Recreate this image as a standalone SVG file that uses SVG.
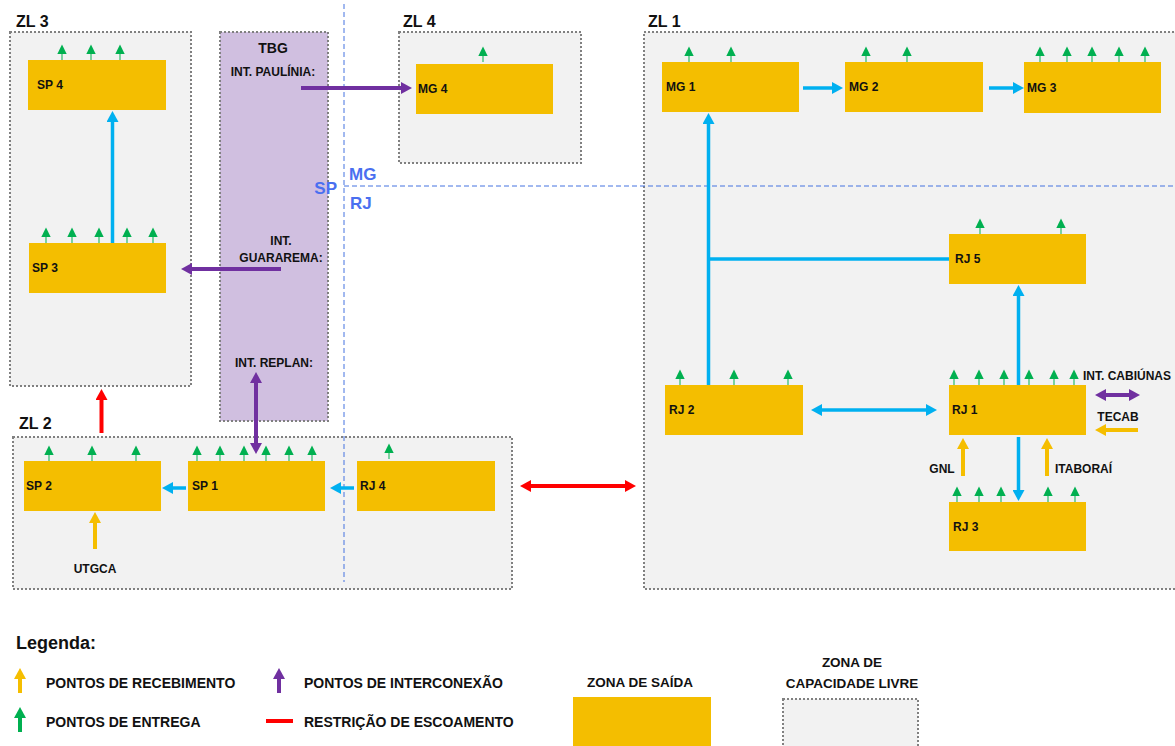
<svg xmlns="http://www.w3.org/2000/svg" width="1175" height="746" viewBox="0 0 1175 746">
<style>
text{font-family:"Liberation Sans",Arial,sans-serif;font-weight:bold;fill:#111}
.zone{fill:#f2f2f2;stroke:#808080;stroke-width:2;stroke-dasharray:2 2}
.tbg{fill:#d0bfe0;stroke:#808080;stroke-width:2;stroke-dasharray:2 2}
.node{fill:#f4be00}
.zl{font-size:16px}
.nl{font-size:12px}
.el{font-size:12px}
.lg{font-size:14px}
.geo{font-size:17px;fill:#4a6ff0}
.dash{stroke:#4472e0;stroke-width:1;stroke-dasharray:5 3;fill:none}
.cb{stroke:#00b0f0;stroke-width:3.5;fill:none}
.cp{stroke:#7030a0;stroke-width:4;fill:none}
.cy{stroke:#f5be00;stroke-width:4;fill:none}
.cr{stroke:#ff0000;stroke-width:4;fill:none}
.cg{stroke:#00b050;stroke-width:4;fill:none}
</style>
<defs>
<marker id="mb" viewBox="0 0 11 12" refX="3" refY="6" markerWidth="11" markerHeight="12" markerUnits="userSpaceOnUse" orient="auto-start-reverse"><path d="M0,0L11,6L0,12z" fill="#00b0f0"/></marker>
<marker id="mp" viewBox="0 0 11 12" refX="3" refY="6" markerWidth="11" markerHeight="12" markerUnits="userSpaceOnUse" orient="auto-start-reverse"><path d="M0,0L11,6L0,12z" fill="#7030a0"/></marker>
<marker id="my" viewBox="0 0 11 12" refX="3" refY="6" markerWidth="11" markerHeight="12" markerUnits="userSpaceOnUse" orient="auto-start-reverse"><path d="M0,0L11,6L0,12z" fill="#f5be00"/></marker>
<marker id="mr" viewBox="0 0 11 12" refX="3" refY="6" markerWidth="11" markerHeight="12" markerUnits="userSpaceOnUse" orient="auto-start-reverse"><path d="M0,0L11,6L0,12z" fill="#ff0000"/></marker>
<marker id="mg" viewBox="0 0 11 12" refX="3" refY="6" markerWidth="11" markerHeight="12" markerUnits="userSpaceOnUse" orient="auto-start-reverse"><path d="M0,0L11,6L0,12z" fill="#00b050"/></marker>
<g id="d"><line x1="0" y1="0" x2="0" y2="-7" stroke="#5cc98a" stroke-width="1.6"/><polygon points="-4.7,-6 4.7,-6 0,-15.5" fill="#00b050"/></g>
</defs>

<g id="zones">
<g id="zl3"><rect class="zone" x="10" y="32" width="181" height="354"/><text class="zl" x="16" y="21" dominant-baseline="central">ZL 3</text></g>
<g id="tbg"><rect class="tbg" x="220" y="32" width="108" height="389"/>
<text x="273" y="48" font-size="14" text-anchor="middle" dominant-baseline="central">TBG</text>
<text class="el" x="273" y="72" text-anchor="middle" dominant-baseline="central">INT. PAULÍNIA:</text>
<text class="el" x="281" y="241" text-anchor="middle" dominant-baseline="central">INT.</text>
<text class="el" x="281" y="258" text-anchor="middle" dominant-baseline="central">GUARAREMA:</text>
<text class="el" x="274" y="363" text-anchor="middle" dominant-baseline="central">INT. REPLAN:</text>
</g>
<g id="zl4"><rect class="zone" x="399" y="32" width="182" height="131"/><text class="zl" x="403" y="21" dominant-baseline="central">ZL 4</text></g>
<g id="zl1"><rect class="zone" x="644" y="32" width="545" height="557"/><text class="zl" x="648" y="21" dominant-baseline="central">ZL 1</text></g>
<g id="zl2"><rect class="zone" x="13" y="437" width="499" height="152"/><text class="zl" x="19" y="423" dominant-baseline="central">ZL 2</text></g>
</g>

<g id="regions">
<line class="dash" x1="344" y1="4" x2="344" y2="582"/>
<line class="dash" x1="344" y1="186" x2="1175" y2="186"/>
<text class="geo" x="337" y="188" text-anchor="end" dominant-baseline="central">SP</text>
<text class="geo" x="349" y="174" dominant-baseline="central">MG</text>
<text class="geo" x="350" y="203" dominant-baseline="central">RJ</text>
</g>

<g id="nodes">
<g id="sp4"><rect class="node" x="28" y="60" width="138" height="50"/><text class="nl" x="37" y="85" dominant-baseline="central">SP 4</text>
<use href="#d" x="62" y="60"/><use href="#d" x="91" y="60"/><use href="#d" x="120" y="60"/></g>
<g id="sp3"><rect class="node" x="29" y="243" width="137" height="50"/><text class="nl" x="32" y="268" dominant-baseline="central">SP 3</text>
<use href="#d" x="46" y="243"/><use href="#d" x="72" y="243"/><use href="#d" x="99" y="243"/><use href="#d" x="127" y="243"/><use href="#d" x="153" y="243"/></g>
<g id="mg4"><rect class="node" x="416" y="64" width="137" height="50"/><text class="nl" x="418" y="89" dominant-baseline="central">MG 4</text>
<use href="#d" x="483" y="62"/></g>
<g id="mg1"><rect class="node" x="662" y="62" width="137" height="50"/><text class="nl" x="666" y="87" dominant-baseline="central">MG 1</text>
<use href="#d" x="689" y="62"/><use href="#d" x="731" y="62"/></g>
<g id="mg2"><rect class="node" x="845" y="62" width="138" height="50"/><text class="nl" x="849" y="87" dominant-baseline="central">MG 2</text>
<use href="#d" x="866" y="62"/><use href="#d" x="907" y="62"/></g>
<g id="mg3"><rect class="node" x="1024" y="62" width="137" height="51"/><text class="nl" x="1027" y="88" dominant-baseline="central">MG 3</text>
<use href="#d" x="1040" y="62"/><use href="#d" x="1067" y="62"/><use href="#d" x="1092" y="62"/><use href="#d" x="1119" y="62"/><use href="#d" x="1145" y="62"/></g>
<g id="rj5"><rect class="node" x="949" y="234" width="137" height="50"/><text class="nl" x="955" y="259" dominant-baseline="central">RJ 5</text>
<use href="#d" x="980" y="234"/><use href="#d" x="1061" y="234"/></g>
<g id="rj2"><rect class="node" x="665" y="385" width="138" height="50"/><text class="nl" x="669" y="410" dominant-baseline="central">RJ 2</text>
<use href="#d" x="680" y="385"/><use href="#d" x="734" y="385"/><use href="#d" x="788" y="385"/></g>
<g id="rj1"><rect class="node" x="949" y="385" width="137" height="50"/><text class="nl" x="952" y="410" dominant-baseline="central">RJ 1</text>
<use href="#d" x="954" y="385"/><use href="#d" x="979" y="385"/><use href="#d" x="1004" y="385"/><use href="#d" x="1029" y="385"/><use href="#d" x="1054" y="385"/><use href="#d" x="1074" y="385"/></g>
<g id="rj3"><rect class="node" x="949" y="502" width="137" height="49"/><text class="nl" x="953" y="527" dominant-baseline="central">RJ 3</text>
<use href="#d" x="957" y="502"/><use href="#d" x="979" y="502"/><use href="#d" x="1001" y="502"/><use href="#d" x="1048" y="502"/><use href="#d" x="1075" y="502"/></g>
<g id="sp2"><rect class="node" x="24" y="461" width="137" height="50"/><text class="nl" x="26" y="486" dominant-baseline="central">SP 2</text>
<use href="#d" x="49" y="461"/><use href="#d" x="92" y="461"/><use href="#d" x="136" y="461"/></g>
<g id="sp1"><rect class="node" x="188" y="461" width="137" height="50"/><text class="nl" x="192" y="486" dominant-baseline="central">SP 1</text>
<use href="#d" x="197" y="461"/><use href="#d" x="220" y="461"/><use href="#d" x="244" y="461"/><use href="#d" x="266" y="461"/><use href="#d" x="289" y="461"/><use href="#d" x="312" y="461"/></g>
<g id="rj4"><rect class="node" x="357" y="461" width="138" height="50"/><text class="nl" x="360" y="486" dominant-baseline="central">RJ 4</text>
<use href="#d" x="389" y="459"/></g>
</g>

<g id="connectors">
<line class="cb" x1="112.5" y1="243" x2="112.5" y2="119" marker-end="url(#mb)"/>
<line class="cb" x1="186" y1="488" x2="170" y2="488" marker-end="url(#mb)"/>
<line class="cb" x1="354" y1="488" x2="338" y2="488" marker-end="url(#mb)"/>
<line class="cb" x1="803" y1="88" x2="835" y2="88" marker-end="url(#mb)"/>
<line class="cb" x1="989" y1="88" x2="1016" y2="88" marker-end="url(#mb)"/>
<line class="cb" x1="708.5" y1="385" x2="708.5" y2="121" marker-end="url(#mb)"/>
<line class="cb" x1="708.5" y1="259" x2="949" y2="259"/>
<line class="cb" x1="1018.5" y1="385" x2="1018.5" y2="293" marker-end="url(#mb)"/>
<line class="cb" x1="819" y1="410" x2="929" y2="410" marker-start="url(#mb)" marker-end="url(#mb)"/>
<line class="cb" x1="1018.5" y1="437" x2="1018.5" y2="493" marker-end="url(#mb)"/>
<line class="cp" x1="301" y1="88" x2="404" y2="88" marker-end="url(#mp)"/>
<line class="cp" x1="281" y1="269" x2="189" y2="269" marker-end="url(#mp)"/>
<line class="cp" x1="256" y1="380" x2="256" y2="446" marker-start="url(#mp)" marker-end="url(#mp)"/>
<line class="cp" x1="1103" y1="395" x2="1132" y2="395" marker-start="url(#mp)" marker-end="url(#mp)"/>
<line class="cy" x1="95" y1="549" x2="95" y2="520" marker-end="url(#my)"/>
<line class="cy" x1="963" y1="476" x2="963" y2="446" marker-end="url(#my)"/>
<line class="cy" x1="1047" y1="476" x2="1047" y2="446" marker-end="url(#my)"/>
<line class="cy" x1="1138" y1="430" x2="1103" y2="430" marker-end="url(#my)"/>
<line class="cr" x1="101.5" y1="433" x2="101.5" y2="397" marker-end="url(#mr)"/>
<line class="cr" x1="528" y1="486" x2="628" y2="486" marker-start="url(#mr)" marker-end="url(#mr)"/>
<text class="el" x="1083" y="376" dominant-baseline="central">INT. CABIÚNAS</text>
<text class="el" x="1118" y="417" text-anchor="middle" dominant-baseline="central">TECAB</text>
<text class="el" x="942" y="469" text-anchor="middle" dominant-baseline="central">GNL</text>
<text class="el" x="1055" y="469" dominant-baseline="central">ITABORAÍ</text>
<text class="el" x="95" y="569" text-anchor="middle" dominant-baseline="central">UTGCA</text>
</g>

<g id="legend">
<text x="16" y="643" font-size="18" dominant-baseline="central">Legenda:</text>
<line class="cy" x1="20" y1="693" x2="20" y2="676" marker-end="url(#my)"/>
<text class="lg" x="46" y="683" dominant-baseline="central">PONTOS DE RECEBIMENTO</text>
<line class="cp" x1="279" y1="693" x2="279" y2="676" marker-end="url(#mp)"/>
<text class="lg" x="304" y="683" dominant-baseline="central">PONTOS DE INTERCONEXÃO</text>
<line class="cg" x1="20" y1="732" x2="20" y2="715" marker-end="url(#mg)"/>
<text class="lg" x="46" y="722" dominant-baseline="central">PONTOS DE ENTREGA</text>
<line class="cr" x1="266" y1="721" x2="293" y2="721"/>
<text class="lg" x="304" y="722" dominant-baseline="central">RESTRIÇÃO DE ESCOAMENTO</text>
<text x="640" y="682" font-size="13.5" text-anchor="middle" dominant-baseline="central">ZONA DE SAÍDA</text>
<rect class="node" x="573" y="697" width="138" height="52"/>
<text x="852" y="662" font-size="13.5" text-anchor="middle" dominant-baseline="central">ZONA DE</text>
<text x="852" y="683" font-size="13.5" text-anchor="middle" dominant-baseline="central">CAPACIDADE LIVRE</text>
<rect class="zone" x="783" y="699" width="135" height="52"/>
</g>
</svg>
